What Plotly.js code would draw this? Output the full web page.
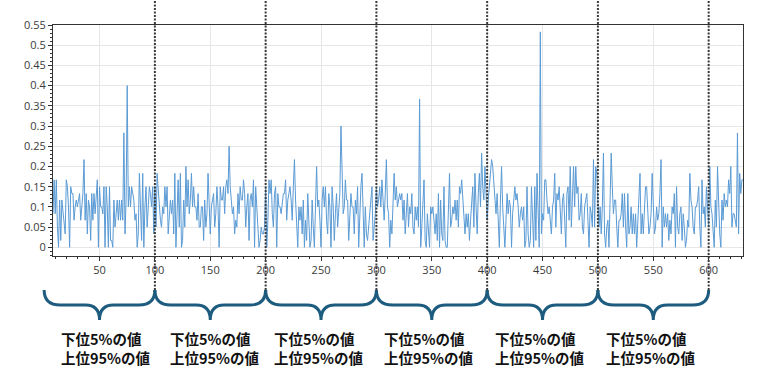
<!DOCTYPE html>
<html>
<head>
<meta charset="utf-8">
<script src="https://cdn.plot.ly/plotly-3.0.1.min.js"></script>
<style>html,body{margin:0;padding:0;background:#fff;}#chart{width:780px;height:382px;}</style>
</head>
<body>
<div id="chart"></div>
<script>
// ---- data ----
const segStarts = [8, 100, 200, 300, 400, 500, 600];
const seg0 = [0.083,0.167,0.083,0.167,0.05,0,0.117,0.017,0.117,0.083,
  0.05,0.033,0.167,0.15,0.1,0,0.15,0.133,0.133,0.067,
  0.1,0.117,0.1,0.117,0.133,0.067,0.117,0.133,0.217,0.067,
  0.133,0.033,0.117,0.1,0.017,0.133,0.067,0.133,0.083,0.133,
  0.167,0,0.15,0.1,0.1,0.083,0.15,0,0.15,0.1,
  0,0.15,0.017,0.017,0,0.117,0.05,0.083,0.117,0.067,
  0.117,0.067,0.117,0.067,0.283,0.033,0.117,0.4,0.1,0.15,
  0.1,0.15,0.133,0.117,0.067,0.083,0,0.033,0.183,0.1,
  0.017,0.183,0,0.1,0.15,0.05,0.1,0.15,0.133,0.1,
  0.15,0.033];
const seg1 = [0.15,0.05,0.183,0.133,0.1,0.067,0.05,0.1,0.083,0.15,
  0.1,0.15,0.033,0.083,0.117,0.083,0.117,0.033,0.183,0,
  0.117,0.167,0.05,0.183,0,0.017,0.117,0.05,0.2,0.1,
  0.167,0.083,0.117,0.183,0.1,0.15,0.1,0.1,0.067,0.133,
  0.05,0.05,0.1,0.1,0.017,0.117,0.05,0.083,0.183,0.1,
  0.033,0.1,0.117,0.133,0.05,0.083,0.15,0.1,0,0.15,
  0.117,0.117,0.15,0.083,0.15,0.167,0.133,0.25,0.15,0.117,
  0.083,0.1,0.033,0.067,0.05,0.133,0.083,0.15,0.117,0.117,
  0.167,0.133,0.05,0.1,0.133,0.017,0.117,0.133,0.1,0.167,
  0,0.15,0.083,0.05,0,0.017,0.05,0.033,0.033,0.05];
const seg2 = [0.15,0,0.067,0.167,0.133,0.167,0.083,0.05,0.133,0.15,
  0,0.133,0.1,0.1,0.083,0.117,0.133,0.133,0.167,0.067,
  0.117,0.133,0.15,0.117,0.067,0.15,0.217,0.117,0.05,0,
  0.1,0.067,0.1,0.033,0.117,0,0.067,0.017,0.133,0.05,
  0,0.017,0.117,0.05,0,0.1,0.2,0.1,0.117,0.067,
  0,0.117,0.15,0.1,0.15,0.067,0.033,0.133,0.1,0,
  0.15,0.1,0.017,0.083,0.133,0.05,0.1,0.133,0.3,0.15,
  0.083,0.1,0.167,0.117,0.117,0.017,0.083,0.133,0.1,0.1,
  0.033,0.117,0.083,0.15,0,0.1,0.15,0.183,0.067,0,
  0.1,0.033,0.017,0.05,0.083,0.117,0.15,0.017,0.05,0.083];
const seg3 = [0.15,0.1,0.117,0.15,0.1,0.167,0.117,0.067,0.133,0.217,
  0.1,0.083,0,0.067,0.033,0.117,0.183,0.117,0.15,0.1,
  0.117,0.133,0.117,0.133,0.067,0.117,0.033,0.083,0.133,0.05,
  0.1,0.083,0.133,0.05,0.033,0.1,0.067,0.1,0.05,0.367,
  0,0.05,0.1,0.167,0.017,0,0.083,0.05,0,0.1,
  0.083,0.1,0.05,0.033,0.083,0.017,0.133,0,0.117,0.033,
  0.017,0.15,0.017,0,0,0.1,0.183,0.05,0.067,0.1,
  0.083,0.117,0.067,0.117,0.05,0.15,0.133,0.167,0.117,0.067,
  0.033,0.083,0.05,0.083,0.017,0.067,0.117,0.15,0.05,0.183,
  0.1,0.033,0.133,0.183,0.1,0.233,0.15,0.117,0.2,0.1];
const seg4 = [0.067,0.117,0.15,0.183,0.217,0.2,0.15,0.117,0.083,0.133,
  0.067,0,0.117,0.2,0.1,0.05,0,0.067,0.133,0.083,
  0.117,0.1,0,0.083,0.117,0.15,0.117,0.133,0.1,0.05,
  0.083,0.1,0.067,0.1,0,0.017,0.15,0.033,0,0.017,
  0.15,0.05,0,0.15,0.017,0.183,0.05,0,0.533,0.033,
  0.083,0.067,0.167,0.167,0.117,0.083,0.1,0.05,0.033,0.1,
  0.117,0.183,0.05,0.133,0.117,0.15,0.083,0.033,0.117,0.133,
  0.067,0,0.133,0.15,0.067,0.2,0.05,0.133,0.2,0.1,
  0.2,0.133,0.15,0.067,0.083,0.133,0.05,0.033,0.1,0.117,
  0.133,0.067,0,0.1,0.083,0.05,0.217,0.05,0.2,0.183];
const seg5 = [0.133,0.05,0.1,0.033,0.1,0.233,0.033,0,0.05,0.067,
  0,0.1,0.233,0.15,0.083,0.117,0.117,0.05,0,0.067,
  0.067,0.083,0.133,0.05,0.133,0.05,0,0.133,0.033,0.05,
  0.1,0.033,0.083,0.033,0.083,0,0.05,0.117,0.183,0.033,
  0.083,0.033,0.117,0.15,0.15,0.067,0.033,0.05,0.083,0.183,
  0.083,0.033,0.05,0.1,0.067,0.083,0.133,0.217,0,0.1,
  0.05,0.083,0.05,0.083,0.017,0.067,0.033,0.1,0.083,0.133,
  0,0.15,0.05,0.033,0.083,0.1,0.017,0.083,0.05,0,
  0.017,0.067,0.05,0.183,0.117,0.1,0.05,0.033,0.1,0.1,
  0.117,0.15,0.05,0,0.167,0.083,0.1,0.05,0.15,0.1];
const seg6 = [0.05,0.2,0.1,0.083,0.033,0,0.117,0.05,0.2,0.083,
  0.033,0,0.117,0.067,0.133,0.1,0.117,0.1,0.167,0.133,
  0.2,0.05,0.083,0.083,0.067,0.05,0.283,0.033,0.183,0.133,
  0.167,0.167];
const segments = [seg0, seg1, seg2, seg3, seg4, seg5, seg6];

const boundaries = [100, 200, 300, 400, 500, 600];       // dotted separators
const braceSpans = [[0,100],[100,200],[200,300],[300,400],[400,500],[500,600]];
const labelLine1 = '下位5%の値';
const labelLine2 = '上位95%の値';

// ---- layout constants ----
const W = 780, H = 382;
const M = {l: 53, r: 37, t: 25, b: 126};
const plotW = W - M.l - M.r, plotH = H - M.t - M.b;
const xRange = [8, 631];
const yRange = [-0.0215, 0.55];

const xs = [], ys = [];
segments.forEach((s, k) => s.forEach((v, i) => { xs.push(segStarts[k] + i); ys.push(v); }));

const toPaperX = v => (v - xRange[0]) / (xRange[1] - xRange[0]);
const pxX = p => p / plotW;                       // pixel offset -> paper
const pyY = py => (H - M.b - py) / plotH;         // absolute pixel y -> paper

const shapes = [];
boundaries.forEach(b => shapes.push({
  type: 'line', xref: 'x', yref: 'paper', x0: b, x1: b, y0: pyY(290), y1: pyY(0),
  line: {color: '#3a3a3a', width: 2, dash: '2px,1.5px'}, layer: 'above'
}));

const braceColor = '#1d5c7e';
braceSpans.forEach(([a, b]) => {
  const L = toPaperX(a), R = toPaperX(b), C = (L + R) / 2;
  const yTop = pyY(290), yMid = pyY(305), yTip = pyY(320);
  const p = [
    `M ${L} ${yTop}`,
    `Q ${L} ${yMid} ${L + pxX(16)} ${yMid}`,
    `L ${C - pxX(14)} ${yMid}`,
    `Q ${C} ${yMid} ${C} ${yTip}`,
    `Q ${C} ${yMid} ${C + pxX(14)} ${yMid}`,
    `L ${R - pxX(16)} ${yMid}`,
    `Q ${R} ${yMid} ${R} ${yTop}`
  ].join(' ');
  shapes.push({type: 'path', xref: 'paper', yref: 'paper', path: p,
    line: {color: braceColor, width: 3}, layer: 'above'});
});

const textShifts = [-40, -41, -48, -49, -49, -48];
const labelFont = {family: '"Noto Sans CJK JP", sans-serif', size: 14.5, color: '#111'};
const annotations = [];
braceSpans.forEach(([a, b], i) => {
  [[labelLine1, 338], [labelLine2, 357.5]].forEach(([t, py]) => annotations.push({
    xref: 'x', yref: 'paper', x: (a + b) / 2, y: pyY(py), xshift: textShifts[i],
    xanchor: 'left', yanchor: 'middle', showarrow: false, borderpad: 0,
    text: '<b>' + t + '</b>', font: labelFont
  }));
});

const tickFont = {family: '"Open Sans", "Noto Sans", sans-serif', size: 11, color: '#3a3a3a'};

const trace = {
  type: 'scatter', mode: 'lines', x: xs, y: ys,
  line: {color: '#5b9bd5', width: 1}, hoverinfo: 'skip'
};

const layout = {
  width: W, height: H, margin: M, showlegend: false,
  paper_bgcolor: '#fff', plot_bgcolor: '#fff',
  xaxis: {
    range: xRange, tick0: 0, dtick: 50, ticks: 'outside', ticklen: 4, tickcolor: '#333',
    showgrid: true, gridcolor: '#e6e6e6', gridwidth: 1, zeroline: false,
    showline: true, linecolor: '#333', linewidth: 1, mirror: true,
    tickfont: tickFont,
    minor: {dtick: 10, tick0: 0, ticks: 'outside', ticklen: 2, tickcolor: '#333', showgrid: false}
  },
  yaxis: {
    range: yRange, tick0: 0, dtick: 0.05, ticks: 'outside', ticklen: 4, tickcolor: '#333',
    showgrid: true, gridcolor: '#e6e6e6', gridwidth: 1, zeroline: false,
    showline: true, linecolor: '#333', linewidth: 1, mirror: true,
    tickfont: tickFont,
    minor: {dtick: 0.01, tick0: 0, ticks: 'outside', ticklen: 2, tickcolor: '#333', showgrid: false}
  },
  shapes: shapes,
  annotations: annotations
};

Plotly.newPlot('chart', [trace], layout, {staticPlot: true, displayModeBar: false});
</script>
</body>
</html>
